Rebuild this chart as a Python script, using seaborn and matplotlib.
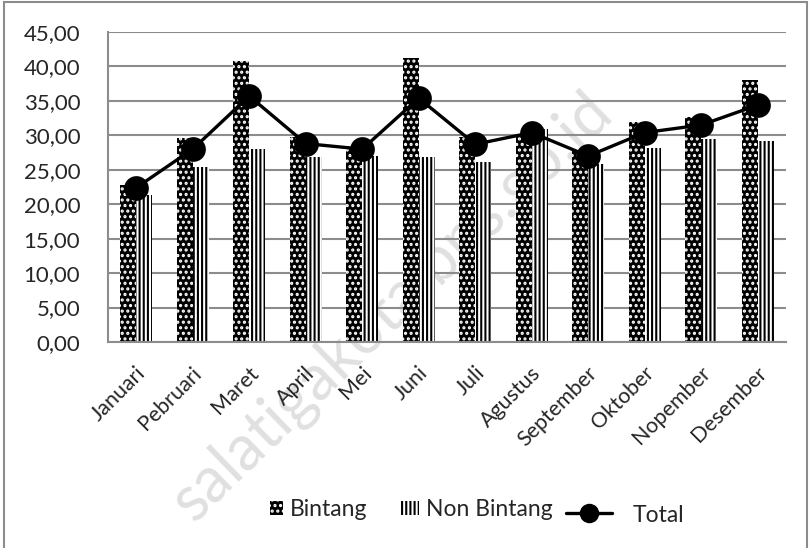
import matplotlib
matplotlib.use("Agg")
import matplotlib.pyplot as plt
import matplotlib.transforms as mtransforms
import seaborn as sns
import pandas as pd
from matplotlib.patches import Patch, Rectangle
from matplotlib.lines import Line2D

months = ["Januari", "Pebruari", "Maret", "April", "Mei", "Juni", "Juli",
          "Agustus", "September", "Oktober", "Nopember", "Desember"]
bintang = [22.8, 29.6, 40.8, 29.8, 28.2, 41.2, 29.8, 30.2, 27.9, 31.9, 32.7, 38.0]
non_bintang = [21.3, 25.4, 28.0, 26.9, 27.0, 26.8, 26.1, 30.9, 25.8, 28.2, 29.5, 29.2]
total = [22.4, 28.0, 35.7, 28.8, 28.0, 35.4, 28.7, 30.4, 27.0, 30.4, 31.5, 34.4]
series_names = ["Bintang", "Non Bintang", "Total"]
yticks = [0, 5, 10, 15, 20, 25, 30, 35, 40, 45]
ytick_labels = ["0,00", "5,00", "10,00", "15,00", "20,00", "25,00",
                "30,00", "35,00", "40,00", "45,00"]
watermark = "salatigakota.bps.go.id"

sns.set_style("white")
plt.rcParams["font.family"] = ["Lato", "DejaVu Sans"]
plt.rcParams["hatch.linewidth"] = 1.5

df = pd.DataFrame({
    "Bulan": months * 2,
    "Nilai": bintang + non_bintang,
    "Jenis": [series_names[0]] * len(months) + [series_names[1]] * len(months),
})

fig = plt.figure(figsize=(8.11, 5.48), dpi=100)

# faint watermark behind everything
fig.text(392 / 811, 1 - 306 / 548, watermark, rotation=44, fontsize=45,
         color="#e0e0e0", ha="center", va="center", zorder=0)

ax = fig.add_axes([108 / 811, 1 - 342 / 548, (786 - 108) / 811, (342 - 32) / 548])
ax.set_facecolor("none")
ax.set_zorder(1)

grid_c = "#8c8c8c"
ax.set_axisbelow(True)
ax.yaxis.grid(True, color=grid_c, linewidth=1.5)

sns.barplot(data=df, x="Bulan", y="Nilai", hue="Jenis", order=months,
            hue_order=series_names[:2], width=0.57, gap=0, ax=ax,
            palette=["black", "white"], legend=False, saturation=1)

n = len(months)
BINT_HATCH = "..."
NON_HATCH = "||||"
for i, p in enumerate(ax.patches[:2 * n]):
    if i < n:
        p.set_facecolor("black")
        p.set_edgecolor("white")
        p.set_hatch(BINT_HATCH)
        p.set_linewidth(0)
    else:
        p.set_facecolor("white")
        p.set_edgecolor("black")
        p.set_hatch(NON_HATCH)
        p.set_linewidth(0)

sns.pointplot(x=months, y=total, order=months, color="black", markers="o",
              markersize=16, linewidth=2.4, ax=ax, errorbar=None)

ax.set_xlim(-0.5, n - 0.5)
ax.set_ylim(0, 45)
ax.set_yticks(yticks)
ax.set_yticklabels(ytick_labels, fontsize=16)
ax.set_xlabel("")
ax.set_ylabel("")

ax.set_xticks([i - 0.5 for i in range(n + 1)], minor=True)
ax.tick_params(axis="x", which="minor", length=7, color=grid_c, width=1.3, direction="out")
ax.tick_params(axis="x", which="major", length=0, pad=15)
ax.tick_params(axis="y", length=8, color=grid_c, width=1.3, direction="out", pad=12)
ax.set_xticks(range(n))
ax.set_xticklabels(months, rotation=45, ha="right", rotation_mode="anchor", fontsize=15.5)
off = mtransforms.ScaledTranslation(-1 / 100, 0, fig.dpi_scale_trans)
for lab in ax.get_xticklabels():
    lab.set_transform(lab.get_transform() + off)

for s in ["top", "right"]:
    ax.spines[s].set_visible(False)
for s in ["left", "bottom"]:
    ax.spines[s].set_color(grid_c)
    ax.spines[s].set_linewidth(1.5)

ly = 1 - 510 / 548
common = dict(loc="center left", frameon=False, fontsize=16.5, borderpad=0,
              borderaxespad=0, handletextpad=0.3)
leg1 = fig.legend([Patch(facecolor="black", edgecolor="white", hatch=BINT_HATCH, linewidth=0)],
                  [series_names[0]], bbox_to_anchor=(270 / 811, ly),
                  handlelength=0.55, handleheight=0.55, **common)
leg2 = fig.legend([Patch(facecolor="white", edgecolor="black", hatch=NON_HATCH, linewidth=0)],
                  [series_names[1]], bbox_to_anchor=(401 / 811, ly),
                  handlelength=0.8, handleheight=0.55, **common)
leg3 = fig.legend([Line2D([0], [0], color="black", marker="o", markersize=13, linewidth=2.4)],
                  [series_names[2]], bbox_to_anchor=(566 / 811, 1 - 515 / 548),
                  handlelength=2.0, loc="center left", frameon=False, fontsize=16.5,
                  borderpad=0, borderaxespad=0, handletextpad=0.9)

fig.patches.append(Rectangle((4 / 811, -0.01), (807 - 4) / 811, 1 - 2 / 548 + 0.01,
                             transform=fig.transFigure, fill=False,
                             edgecolor=grid_c, linewidth=1.5))

fig.savefig("out.png", dpi=100)
